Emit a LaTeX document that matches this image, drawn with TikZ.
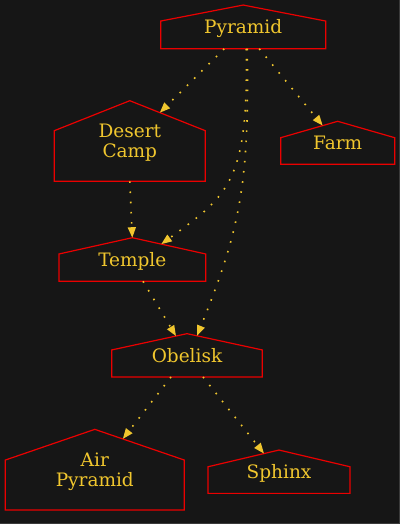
\documentclass[tikz,border=0pt]{standalone}
\usepackage{fontspec}
\setmainfont{DejaVu Serif}
\usepackage{tikz}
\usetikzlibrary{arrows.meta,calc}

\definecolor{bgdark}{RGB}{22,22,22}
\definecolor{rimgray}{RGB}{58,58,58}
\definecolor{gold}{RGB}{240,198,46}
\definecolor{housered}{RGB}{235,0,0}

\begin{document}
\begin{tikzpicture}[x=1pt,y=1pt,
        place/.style={rectangle, inner sep=0pt, outer sep=0pt, align=center, text depth=0pt,
            text=gold, font=\fontsize{18.5}{20.5}\selectfont},
        houseline/.style={draw=housered, line width=1.2pt, line join=miter},
        link/.style={draw=gold, line width=1.6pt, dash pattern=on 1.6pt off 8.6pt,
            -{Triangle[length=10.5pt,width=8pt]}}]
            \fill[bgdark] (0,0) rectangle (400,-524);
            \fill[rimgray] (0,-523) rectangle (400,-524);
            \fill[rimgray] (399,0) rectangle (400,-524);

            % places
            \node[place, minimum width=165pt, minimum height=43.7pt] (pyramid) at (243.2,-26.9) {Pyramid};
            \node[place, minimum width=151pt, minimum height=80.6pt] (camp) at (129.8,-141) {Desert\\Camp};
            \node[place, minimum width=114pt, minimum height=43pt] (farm) at (337.7,-142.8) {Farm};
            \node[place, minimum width=146.7pt, minimum height=43.6pt] (temple) at (132.3,-259.5) {Temple};
            \node[place, minimum width=150.6pt, minimum height=43.3pt] (obelisk) at (187,-355.3) {Obelisk};
            \node[place, minimum width=179pt, minimum height=80.7pt] (airpyr) at (94.8,-469.7) {Air\\Pyramid};
            \node[place, minimum width=142pt, minimum height=43.3pt] (sphinx) at (279,-471.7) {Sphinx};

            % house outlines
            \foreach \n/\r in {pyramid/16, camp/30, farm/16.4, temple/16.3, obelisk/16.3, airpyr/30.7, sphinx/16.7}
                \draw[houseline] (\n.south west) -- ([yshift=-\r pt]\n.north west) -- (\n.north)
                    -- ([yshift=-\r pt]\n.north east) -- (\n.south east) -- cycle;

            % links
            \draw[link] ($(pyramid.south)+(-19,0)$) -- ($(camp.north)+(30,-12)$);
            \draw[link] ($(pyramid.south)+(3,0)$) to[out=-89,in=36,out looseness=1.6,in looseness=1] ($(temple.north)+(29,-6.4)$);
            \draw[link] ($(pyramid.south)+(4,0)$) to[out=-89,in=68,out looseness=1.2] ($(obelisk.north)+(10,-2.2)$);
            \draw[link] ($(pyramid.south)+(16,0)$) -- ($(farm.north)+(-15,-4.3)$);
            \draw[link] (camp.south) -- (temple.north);
            \draw[link] ($(temple.south)+(10.7,0)$) -- ($(obelisk.north)+(-11,-2.4)$);
            \draw[link] ($(obelisk.south)+(-16,0)$) -- ($(airpyr.north)+(28,-9.6)$);
            \draw[link] ($(obelisk.south)+(16,0)$) -- ($(sphinx.north)+(-15,-3.5)$);
        \end{tikzpicture}
\end{document}
